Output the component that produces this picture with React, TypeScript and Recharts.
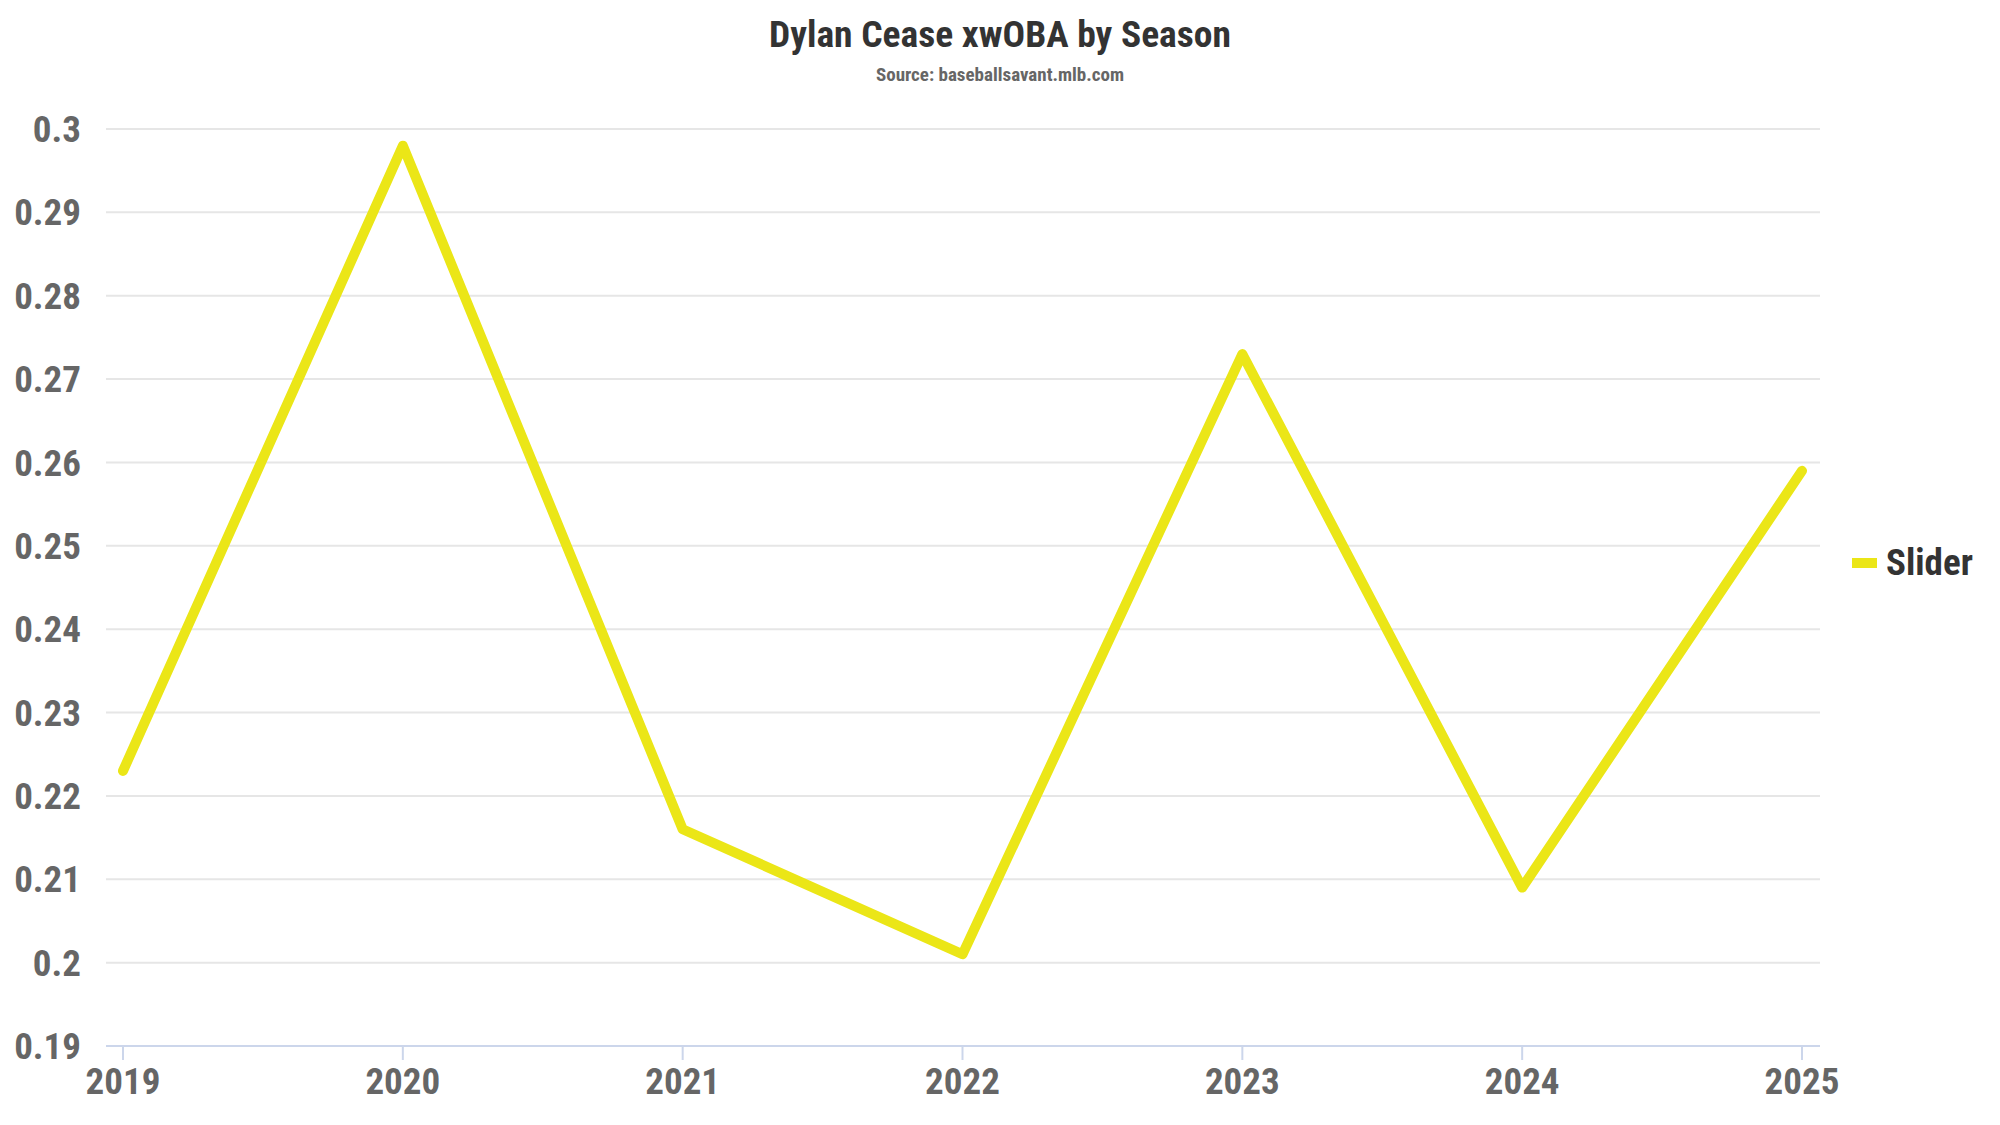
import {
  LineChart,
  Line,
  XAxis,
  YAxis,
  CartesianGrid,
  Legend,
} from 'recharts'

const seasons = ['2019', '2020', '2021', '2022', '2023', '2024', '2025']
const sliderXwoba = [0.223, 0.298, 0.216, 0.201, 0.273, 0.209, 0.259]
const yTicks = [0.19, 0.2, 0.21, 0.22, 0.23, 0.24, 0.25, 0.26, 0.27, 0.28, 0.29, 0.3]

const FONT = "'Roboto Condensed', 'Liberation Sans Narrow', Roboto, sans-serif"
const LINE_COLOR = '#ebe617'

const data = seasons.map((season, i) => ({ season, slider: sliderXwoba[i] }))

function SliderLegend() {
  return (
    <div style={{ display: 'flex', alignItems: 'center', fontFamily: FONT }}>
      <span style={{ width: 25, height: 10, background: LINE_COLOR, display: 'inline-block', marginRight: 9 }} />
      <span style={{ fontSize: 37, fontWeight: 700, color: '#333333' }}>Slider</span>
    </div>
  )
}

export default function App() {
  return (
    <div style={{ position: 'absolute', left: 0, top: 0, width: 2000, height: 1125, background: '#fff' }}>
      <div
        style={{
          position: 'absolute',
          top: 12,
          width: 2000,
          textAlign: 'center',
          fontFamily: FONT,
          fontWeight: 700,
          fontSize: 37.5,
          color: '#333333',
        }}
      >
        Dylan Cease xwOBA by Season
      </div>
      <div
        style={{
          position: 'absolute',
          top: 63,
          width: 2000,
          textAlign: 'center',
          fontFamily: FONT,
          fontWeight: 700,
          fontSize: 19,
          color: '#666666',
        }}
      >
        Source: baseballsavant.mlb.com
      </div>
      <LineChart
        width={2000}
        height={1125}
        data={data}
        margin={{ top: 129, right: 180, bottom: 0, left: 0 }}
        style={{ position: 'absolute', left: 0, top: 0 }}
      >
        <CartesianGrid vertical={false} stroke="#e6e6e6" strokeWidth={2} />
        <XAxis
          dataKey="season"
          height={79}
          padding={{ left: 17, right: 18 }}
          axisLine={{ stroke: '#ccd6eb', strokeWidth: 2 }}
          tickLine={{ stroke: '#ccd6eb', strokeWidth: 2 }}
          tickSize={14}
          tickMargin={8}
          tick={{ fontSize: 37, fontWeight: 700, fill: '#666666', fontFamily: FONT }}
        />
        <YAxis
          width={106}
          domain={[0.19, 0.3]}
          ticks={yTicks}
          tickFormatter={(v: number) => String(v)}
          axisLine={false}
          tickLine={false}
          tickMargin={19}
          tick={{ fontSize: 37, fontWeight: 700, fill: '#666666', fontFamily: FONT }}
        />
        <Legend
          layout="vertical"
          align="center"
          verticalAlign="middle"
          content={() => <SliderLegend />}
          wrapperStyle={{ left: 1852, top: 541, width: 'auto', height: 'auto' }}
        />
        <Line
          type="linear"
          dataKey="slider"
          name="Slider"
          stroke={LINE_COLOR}
          strokeWidth={10}
          strokeLinejoin="round"
          strokeLinecap="round"
          dot={false}
          activeDot={false}
          isAnimationActive={false}
        />
      </LineChart>
    </div>
  )
}
